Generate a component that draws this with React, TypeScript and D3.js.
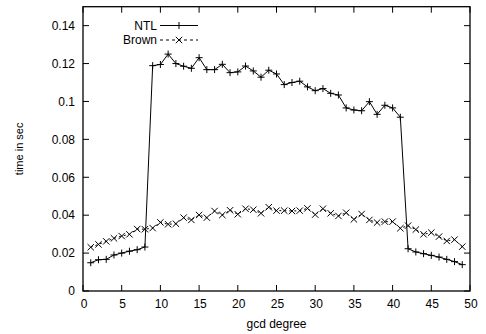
import React from "react";
import * as d3 from "d3";

const degrees = d3.range(1, 50);
const ntl = [
  0.0149, 0.0165, 0.0167, 0.019, 0.020, 0.021, 0.0218, 0.0232,
  0.1189, 0.1195, 0.125, 0.120, 0.1186, 0.1175, 0.1231, 0.1168, 0.1168, 0.1196, 0.1152, 0.1156,
  0.1187, 0.1161, 0.1128, 0.1165, 0.1145, 0.1089, 0.110, 0.1107, 0.1077, 0.1057,
  0.1068, 0.1043, 0.1034, 0.0966, 0.0955, 0.0951, 0.0999, 0.0932, 0.098, 0.0966,
  0.0917, 0.0223, 0.0206, 0.0197, 0.0188, 0.0179, 0.0167, 0.0155, 0.0139,
];
const brown = [
  0.0231, 0.0246, 0.0262, 0.0278, 0.029, 0.0299, 0.0327, 0.0326, 0.0332, 0.0362,
  0.0352, 0.0355, 0.0387, 0.0375, 0.0401, 0.0387, 0.0422, 0.0401, 0.0426, 0.0405,
  0.0434, 0.0429, 0.041, 0.0442, 0.0424, 0.0424, 0.0422, 0.0424, 0.0436, 0.0403,
  0.0434, 0.041, 0.0396, 0.0413, 0.0378, 0.0406, 0.0375, 0.0361, 0.0366, 0.0366,
  0.0331, 0.0345, 0.0324, 0.0299, 0.0308, 0.0287, 0.0264, 0.0271, 0.0234,
];
const xTicks = [0, 5, 10, 15, 20, 25, 30, 35, 40, 45, 50];
const yTicks = [0, 0.02, 0.04, 0.06, 0.08, 0.1, 0.12, 0.14];
const yTickLabels = ["0", "0.02", "0.04", "0.06", "0.08", "0.1", "0.12", "0.14"];
const seriesNames = ["NTL", "Brown"];

const W = 486, H = 334;
const L = 83, R = 470, T = 6.7, B = 291;
const font = "'Liberation Sans', Arial, sans-serif";
const fs = 12;

function Plus({ x, y }: { x: number; y: number }) {
  const s = 3.5;
  return <path d={`M${x - s},${y}H${x + s}M${x},${y - s}V${y + s}`} stroke="#000" strokeWidth={1} />;
}
function Cross({ x, y }: { x: number; y: number }) {
  const s = 3.2;
  return <path d={`M${x - s},${y - s}L${x + s},${y + s}M${x - s},${y + s}L${x + s},${y - s}`} stroke="#000" strokeWidth={1} />;
}

export default function App() {
  const x = d3.scaleLinear().domain([0, 50]).range([L, R]);
  const y = d3.scaleLinear().domain([0, 0.15]).range([B, T]);
  const line = d3.line<[number, number]>().x((d) => x(d[0])).y((d) => y(d[1]));
  const ntlPts = degrees.map((d, i) => [d, ntl[i]] as [number, number]);
  const brPts = degrees.map((d, i) => [d, brown[i]] as [number, number]);
  const tl = 6;
  return (
    <svg width={W} height={H} style={{ position: "absolute", left: 0, top: 0, background: "#fff" }}>
      <rect width={W} height={H} fill="#fff" />
      {xTicks.map((t) => (
        <g key={"x" + t}>
          <line x1={x(t)} x2={x(t)} y1={B} y2={B - tl} stroke="#000" />
          <line x1={x(t)} x2={x(t)} y1={T} y2={T + tl} stroke="#000" />
          <text x={x(t) + 1} y={308} textAnchor="middle" fontFamily={font} fontSize={fs}>{t}</text>
        </g>
      ))}
      {yTicks.map((t, i) => (
        <g key={"y" + t}>
          <line x1={L} x2={L + tl} y1={y(t)} y2={y(t)} stroke="#000" />
          <line x1={R} x2={R - tl} y1={y(t)} y2={y(t)} stroke="#000" />
          <text x={75} y={y(t) + 4.3} textAnchor="end" fontFamily={font} fontSize={fs}>{yTickLabels[i]}</text>
        </g>
      ))}
      <rect x={L} y={T} width={R - L} height={B - T} fill="none" stroke="#000" strokeWidth={1.3} />
      <text x={(L + R) / 2} y={328} textAnchor="middle" fontFamily={font} fontSize={fs}>gcd degree</text>
      <text transform={`translate(23,${(T + B) / 2}) rotate(-90)`} textAnchor="middle" fontFamily={font} fontSize={11}>time in sec</text>

      <path d={line(ntlPts) || ""} fill="none" stroke="#000" strokeWidth={1} />
      {ntlPts.map((p, i) => <Plus key={"n" + i} x={x(p[0])} y={y(p[1])} />)}
      <path d={line(brPts) || ""} fill="none" stroke="#000" strokeWidth={1} strokeDasharray="2,3" />
      {brPts.map((p, i) => <Cross key={"b" + i} x={x(p[0])} y={y(p[1])} />)}

      <text x={157} y={29.8} textAnchor="end" fontFamily={font} fontSize={fs}>{seriesNames[0]}</text>
      <line x1={160} x2={198} y1={25.5} y2={25.5} stroke="#000" />
      <Plus x={179} y={25.5} />
      <text x={157} y={44.3} textAnchor="end" fontFamily={font} fontSize={fs}>{seriesNames[1]}</text>
      <line x1={160} x2={198} y1={40} y2={40} stroke="#000" strokeDasharray="3,3" />
      <Cross x={179} y={40} />
    </svg>
  );
}
